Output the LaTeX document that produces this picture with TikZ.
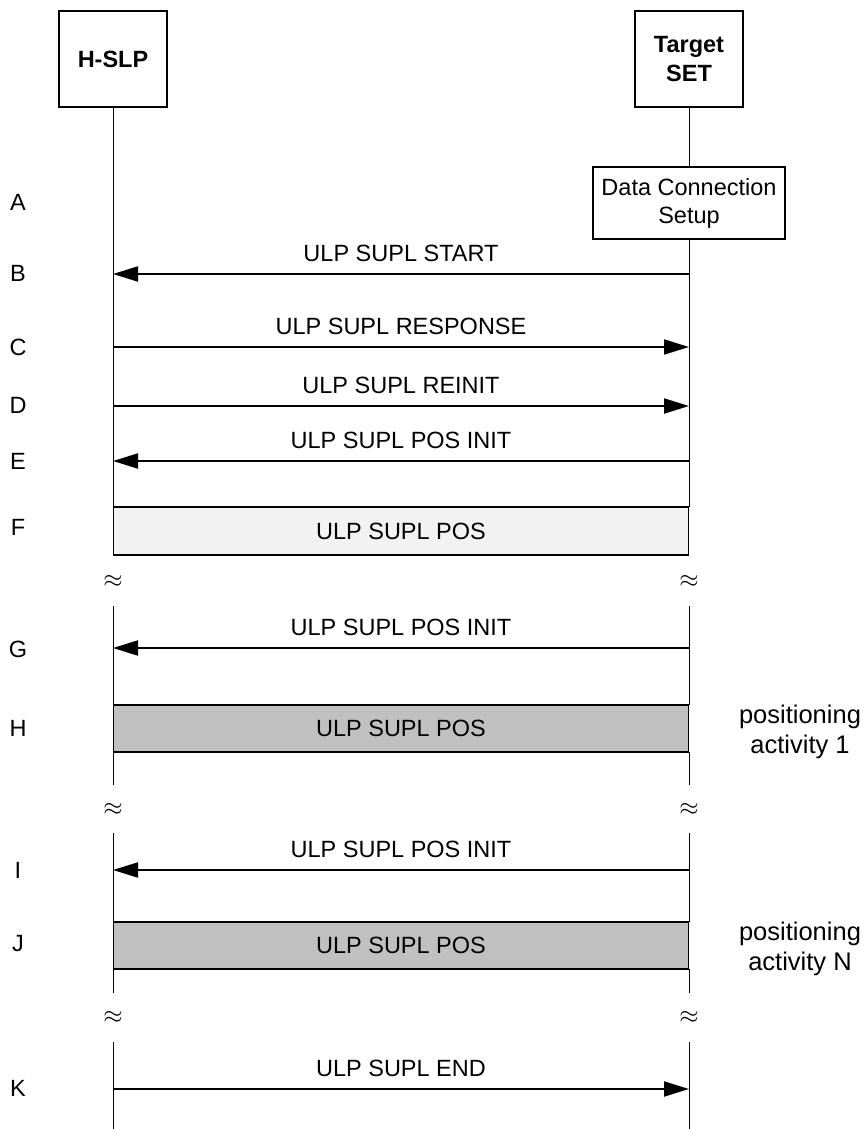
\documentclass[tikz,border=0pt]{standalone}
\usepackage{fontspec}
\setmainfont{Liberation Sans}
\usetikzlibrary{arrows.meta}
\begin{document}
\begin{tikzpicture}[x=1pt,y=-1pt,
  every node/.style={font=\fontsize{23.5}{28}\selectfont, inner sep=0pt, outer sep=0pt},
  entity/.style={draw, line width=1.6pt, minimum width=108pt, minimum height=96pt, align=center,
    font=\fontsize{23.5}{29}\selectfont\bfseries},
  setupbox/.style={draw, fill=white, line width=1.6pt, minimum width=192pt, minimum height=72pt, align=center},
  life/.style={line width=0.9pt},
  msg/.style={line width=2pt, -{Triangle[length=25pt,width=15pt]}},
  lightpos/.style={draw, line width=1.8pt, fill=lightgray1, minimum width=575pt, minimum height=48pt},
  darkpos/.style={draw, line width=1.8pt, fill=gray1, minimum width=575pt, minimum height=47pt},
  steplabel/.style={},
  msglabel/.style={midway, above=12pt},
  activity/.style={font=\fontsize{25.5}{30}\selectfont, anchor=base},
  gap/.style={font=\fontsize{26}{26}\selectfont}
]
\definecolor{lightgray1}{HTML}{F2F2F2}
\definecolor{gray1}{HTML}{C0C0C0}
\useasboundingbox (0,0) rectangle (867,1129);

% entities
\node[entity] (hslp) at (113,59) {H-SLP};
\node[entity] (tset) at (689,59) {Target\\SET};

% data connection setup
\node[setupbox] (dcs) at (689,203) {Data Connection\\Setup};

% lifeline coordinates
\coordinate (hF1) at (113,507);
\coordinate (tF1) at (689,507);
\coordinate (hG0) at (113,606);
\coordinate (tG0) at (689,606);
\coordinate (hH1) at (113,705);
\coordinate (tH1) at (689,705);
\coordinate (hH2) at (113,752);
\coordinate (tH2) at (689,752);
\coordinate (hH3) at (113,785);
\coordinate (tH3) at (689,785);
\coordinate (hI0) at (113,833);
\coordinate (tI0) at (689,833);
\coordinate (hJ1) at (113,922);
\coordinate (tJ1) at (689,922);
\coordinate (hJ2) at (113,969);
\coordinate (tJ2) at (689,969);
\coordinate (hJ3) at (113,993);
\coordinate (tJ3) at (689,993);
\coordinate (hK0) at (113,1042);
\coordinate (tK0) at (689,1042);
\coordinate (hEnd) at (113,1129);
\coordinate (tEnd) at (689,1129);

% lifelines
\draw[life] (hslp.south) -- (hF1);
\draw[life] (tset.south) -- (dcs.north);
\draw[life] (dcs.south) -- (tF1);
\draw[life] (hG0) -- (hH1);
\draw[life] (tG0) -- (tH1);
\draw[life] (hH2) -- (hH3);
\draw[life] (tH2) -- (tH3);
\draw[life] (hI0) -- (hJ1);
\draw[life] (tI0) -- (tJ1);
\draw[life] (hJ2) -- (hJ3);
\draw[life] (tJ2) -- (tJ3);
\draw[life] (hK0) -- (hEnd);
\draw[life] (tK0) -- (tEnd);

% message end points
\coordinate (hB) at (113,274);  \coordinate (tB) at (689,274);
\coordinate (hC) at (113,347);  \coordinate (tC) at (689,347);
\coordinate (hD) at (113,406);  \coordinate (tD) at (689,406);
\coordinate (hE) at (113,461);  \coordinate (tE) at (689,461);
\coordinate (hG) at (113,648);  \coordinate (tG) at (689,648);
\coordinate (hI) at (113,870);  \coordinate (tI) at (689,870);
\coordinate (hK) at (113,1089); \coordinate (tK) at (689,1089);

% messages
\draw[msg] (tB) -- (hB) node[msglabel] (lB) {ULP SUPL START};
\draw[msg] (hC) -- (tC) node[msglabel] (lC) {ULP SUPL RESPONSE};
\draw[msg] (hD) -- (tD) node[msglabel] (lD) {ULP SUPL REINIT};
\draw[msg] (tE) -- (hE) node[msglabel] (lE) {ULP SUPL POS INIT};
\draw[msg] (tG) -- (hG) node[msglabel] (lG) {ULP SUPL POS INIT};
\draw[msg] (tI) -- (hI) node[msglabel] (lI) {ULP SUPL POS INIT};
\draw[msg] (hK) -- (tK) node[msglabel] (lK) {ULP SUPL END};

% positioning boxes
\node[lightpos] (posF) at (401,531) {ULP SUPL POS};
\node[darkpos] (posH) at (401,728.5) {ULP SUPL POS};
\node[darkpos] (posJ) at (401,945.5) {ULP SUPL POS};

% activity notes
\node[activity] (actH1) at (800,723) {positioning};
\node[activity] (actH2) at (800,753) {activity 1};
\node[activity] (actJ1) at (800,940) {positioning};
\node[activity] (actJ2) at (800,970) {activity N};

% gap marks
\node[gap] (g1h) at (113,581) {$\approx$};
\node[gap] (g1t) at (689,581) {$\approx$};
\node[gap] (g2h) at (113,809) {$\approx$};
\node[gap] (g2t) at (689,809) {$\approx$};
\node[gap] (g3h) at (113,1017) {$\approx$};
\node[gap] (g3t) at (689,1017) {$\approx$};

% step letters
\node[steplabel] (sA) at (18,202) {A};
\node[steplabel] (sB) at (18,273) {B};
\node[steplabel] (sC) at (18,347) {C};
\node[steplabel] (sD) at (18,405) {D};
\node[steplabel] (sE) at (18,461) {E};
\node[steplabel] (sF) at (18,527) {F};
\node[steplabel] (sG) at (18,649) {G};
\node[steplabel] (sH) at (18,728) {H};
\node[steplabel] (sI) at (18,870) {I};
\node[steplabel] (sJ) at (18,944) {J};
\node[steplabel] (sK) at (18,1088) {K};
\end{tikzpicture}
\end{document}
